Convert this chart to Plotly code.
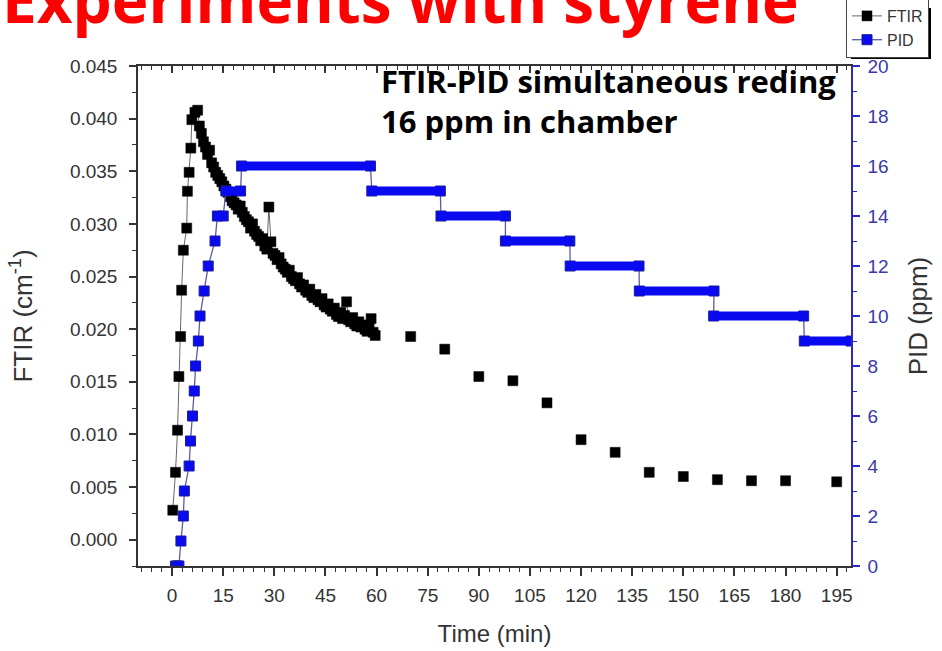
import plotly.graph_objects as go

# ---------------- data ----------------
ftir_time = [0.2, 1.0, 1.6, 2.0, 2.5, 2.8, 3.3, 4.3, 4.5, 5.0, 5.5, 5.8, 6.7, 7.5,
             8.0, 8.6, 9.2, 9.8, 10.4, 11.0, 11.6, 12.2, 12.8, 13.4, 14.0, 14.6, 15.2, 15.8,
             16.4, 17.0, 17.6, 18.2, 18.8, 19.4, 20.0, 20.6, 21.2, 21.8, 22.4, 23.0, 23.6,
             24.2, 24.8, 25.4, 26.0, 26.6, 27.2, 27.8, 28.4, 29.0, 29.6, 30.2, 30.8, 31.4,
             32.0, 32.6, 33.2, 33.8, 34.4, 35.0, 35.6, 36.2, 36.8, 37.4, 38.0, 38.6, 39.2,
             39.8, 40.4, 41.0, 41.6, 42.2, 42.8, 43.4, 44.0, 44.6, 45.2, 45.8, 46.4, 47.0,
             47.6, 48.2, 48.8, 49.4, 50.0, 50.6, 51.2, 51.8, 52.4, 53.0, 53.6, 54.2, 54.8,
             55.4, 56.0, 56.6, 57.2, 57.8, 58.4, 59.0, 59.6]
ftir_value = [0.0028, 0.0064, 0.0104, 0.0155, 0.0193, 0.0237, 0.0275, 0.0296, 0.0331, 0.0349,
              0.0372, 0.0399, 0.0406, 0.0408,
              0.0393, 0.0386, 0.0378, 0.0373, 0.0366, 0.0370, 0.0358, 0.0354, 0.0349, 0.0346,
              0.0343, 0.0340, 0.0336, 0.0333, 0.0330, 0.0326, 0.0322, 0.0320, 0.0318, 0.0314,
              0.0317, 0.0311, 0.0307, 0.0304, 0.0302, 0.0296, 0.0300, 0.0293, 0.0290, 0.0288,
              0.0284, 0.0286, 0.0279, 0.0276, 0.0316, 0.0283, 0.0272, 0.0270, 0.0266, 0.0268,
              0.0262, 0.0259, 0.0257, 0.0254, 0.0256, 0.0250, 0.0248, 0.0246, 0.0249, 0.0243,
              0.0240, 0.0242, 0.0237, 0.0235, 0.0238, 0.0232, 0.0230, 0.0233, 0.0228, 0.0226,
              0.0229, 0.0223, 0.0221, 0.0224, 0.0219, 0.0217, 0.0220, 0.0214, 0.0212, 0.0216,
              0.0210, 0.0213, 0.0226, 0.0209, 0.0207, 0.0211, 0.0205, 0.0203, 0.0207, 0.0202,
              0.0204, 0.0200, 0.0198, 0.0203, 0.0210, 0.0197, 0.0194]
ftir_late_time = [70, 80, 90, 100, 110, 120, 130, 140, 150, 160, 170, 180, 195]
ftir_late_value = [0.0193, 0.0181, 0.0155, 0.0151, 0.0130, 0.0095, 0.0083, 0.0064,
                   0.0060, 0.0057, 0.0056, 0.0056, 0.0055]

pid_rise_time = [1.0, 1.5, 2.0, 2.6, 3.3, 3.6, 5.0, 5.4, 6.0, 6.5, 6.9, 7.7, 8.2, 9.4, 10.6, 12.6]
pid_rise_value = [0, 0, 0, 1, 2, 3, 4, 5, 6, 7, 8, 9, 10, 11, 12, 13]
pid_step_level = [14, 15, 16, 15, 14, 13, 12, 11, 10, 9]
pid_step_start = [13.3, 15.8, 20.4, 58.6, 78.9, 97.8, 116.8, 137.1, 158.9, 185.5]
pid_step_end = [15.0, 20.1, 58.2, 78.7, 97.8, 116.7, 137.0, 159.0, 185.3, 199.2]

x_ticks = list(range(0, 196, 15))
y_ticks = [0.000, 0.005, 0.010, 0.015, 0.020, 0.025, 0.030, 0.035, 0.040, 0.045]
y2_ticks = list(range(0, 21, 2))

# ---------------- geometry ----------------
W, H = 942, 651
L, R, T, B = 138, 91, 66, 85
PW, PH = W - L - R, H - T - B


def px(xp):
    return (xp - L) / PW


def py(yp):
    return (H - B - yp) / PH


FONT = "Liberation Sans, Arial, sans-serif"
AX = "#333333"
BLUE_AX = "#2a2ac0"
BLUE_TXT = "#3a3aa8"
MS = 10

fig = go.Figure()

# FTIR
fig.add_trace(go.Scatter(
    x=ftir_time, y=ftir_value, name="FTIR", mode="lines+markers",
    line=dict(color="#666666", width=1),
    marker=dict(symbol="square", size=MS, color="black", line=dict(color="black", width=0.5)),
    xaxis="x", yaxis="y"))
fig.add_trace(go.Scatter(
    x=ftir_late_time, y=ftir_late_value, mode="markers", showlegend=False,
    marker=dict(symbol="square", size=MS, color="black", line=dict(color="black", width=0.5)),
    xaxis="x", yaxis="y"))

# PID: readings + step ends connected by a thin line
pid_x = list(pid_rise_time)
pid_y = list(pid_rise_value)
for s, e, v in zip(pid_step_start, pid_step_end, pid_step_level):
    pid_x += [s, e]
    pid_y += [v, v]
fig.add_trace(go.Scatter(
    x=pid_x, y=pid_y, name="PID", mode="lines+markers",
    line=dict(color="#5a5aa8", width=1.3),
    marker=dict(symbol="square", size=MS, color="#0a0af0", line=dict(color="#1c1c9c", width=1)),
    xaxis="x", yaxis="y2"))
# thick plateaus made of overlapping readings
bar_x, bar_y = [], []
for s, e, v in zip(pid_step_start, pid_step_end, pid_step_level):
    bar_x += [s, e, None]
    bar_y += [v, v, None]
fig.add_trace(go.Scatter(
    x=bar_x, y=bar_y, mode="lines", showlegend=False, hoverinfo="skip",
    line=dict(color="#0a0af0", width=9),
    xaxis="x", yaxis="y2"))

# invisible trace to carry the top axis
fig.add_trace(go.Scatter(x=[0], y=[0], mode="markers", marker=dict(opacity=0),
                         showlegend=False, hoverinfo="skip", xaxis="x2", yaxis="y"))

xr = [-10, 199.2]
fig.update_layout(
    width=W, height=H,
    margin=dict(l=L, r=R, t=T, b=B, pad=0, autoexpand=False),
    paper_bgcolor="white", plot_bgcolor="white",
    font=dict(family=FONT, color=AX, size=18),
    showlegend=True,
    legend=dict(x=px(846), y=py(-2), xanchor="left", yanchor="top",
                bgcolor="white", bordercolor="#444444", borderwidth=1,
                font=dict(family=FONT, size=16, color="#333333"),
                itemwidth=30, tracegroupgap=0),
    xaxis=dict(range=xr, tickvals=x_ticks, ticks="outside", ticklen=8, tickwidth=1.5,
               tickcolor=AX, showline=True, linecolor=AX, linewidth=1.5,
               showgrid=False, zeroline=False, tickfont=dict(size=19, color=AX),
               ticklabelstandoff=3,
               minor=dict(dtick=3, tick0=0, ticks="outside", ticklen=4, tickwidth=1.2, tickcolor=AX),
               title=dict(text="Time (min)", font=dict(size=24, color=AX), standoff=21)),
    xaxis2=dict(range=xr, overlaying="x", side="top", anchor="y", tickvals=x_ticks,
                ticks="inside", ticklen=7, tickwidth=1.5, tickcolor=AX,
                showline=True, linecolor=AX, linewidth=1.5, showticklabels=False,
                showgrid=False, zeroline=False,
                minor=dict(dtick=3, tick0=0, ticks="inside", ticklen=4, tickwidth=1.2, tickcolor=AX)),
    yaxis=dict(range=[-0.0025, 0.045], tickvals=y_ticks, tickformat=".3f",
               ticks="outside", ticklen=7, tickwidth=1.5, tickcolor=AX,
               showline=True, linecolor=AX, linewidth=1.5, showgrid=False, zeroline=False,
               tickfont=dict(size=19, color=AX), ticklabelstandoff=8,
               minor=dict(dtick=0.0025, tick0=0, ticks="outside", ticklen=4, tickwidth=1.2, tickcolor=AX),
               title=dict(text="FTIR (cm<sup>-1</sup>)", font=dict(size=26, color=AX), standoff=30)),
    yaxis2=dict(range=[0, 20], tickvals=y2_ticks, overlaying="y", side="right", anchor="x",
                ticks="outside", ticklen=7, tickwidth=1.5, tickcolor=BLUE_AX,
                showline=True, linecolor=BLUE_AX, linewidth=1.5, showgrid=False, zeroline=False,
                tickfont=dict(size=19, color=BLUE_TXT), ticklabelstandoff=4,
                minor=dict(dtick=1, tick0=0, ticks="outside", ticklen=4, tickwidth=1.2, tickcolor=BLUE_AX),
                title=dict(text="PID (ppm)", font=dict(size=26, color=AX), standoff=21)),
)

# legend drop shadow
fig.add_shape(type="rect", xref="paper", yref="paper",
              x0=px(851), x1=px(931), y0=py(59), y1=py(8),
              fillcolor="black", line=dict(width=0), layer="below")

# slide title (partly cut off at the top)
fig.add_annotation(text="<b>Experiments with styrene</b>", xref="paper", yref="paper",
                   x=px(0), y=py(43), xanchor="left", yanchor="bottom", showarrow=False,
                   font=dict(family="Open Sans, sans-serif", size=62, color="#ff0000"))

# in-plot note
fig.add_annotation(text="<b>FTIR-PID simultaneous reding<br>16 ppm in chamber</b>",
                   xref="paper", yref="paper", x=px(379), y=py(58), xanchor="left",
                   yanchor="top", align="left", showarrow=False,
                   font=dict(family="Open Sans, sans-serif", size=31, color="black"))

fig.write_html("out.html")
